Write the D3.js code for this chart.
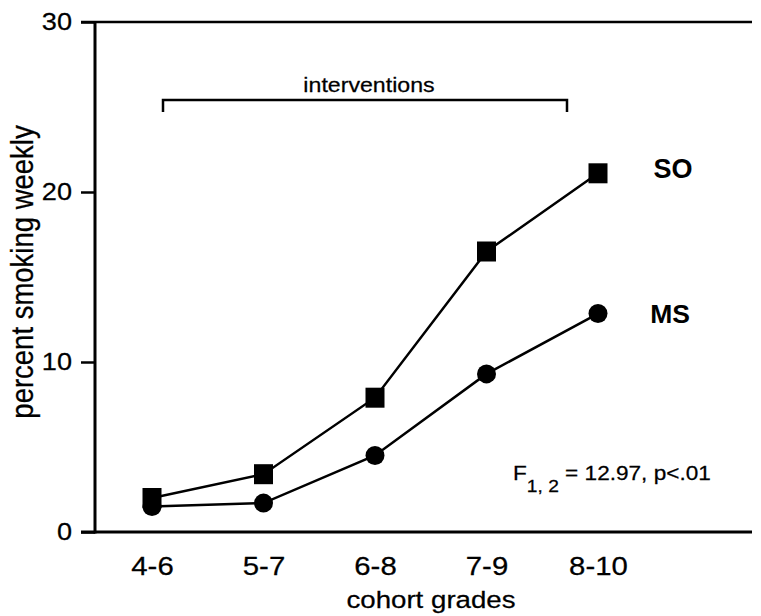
<!DOCTYPE html>
<html lang="en">
  <head>
    <meta charset="UTF-8">
    <title>percent smoking weekly</title>
    <style>
      html,body{
        background-color: #fff;
        margin: 0;
        padding: 0;
      }
      text { font-family: "Liberation Sans", Arial, sans-serif; fill: #000; stroke: #000; stroke-width: 0.25px; }
      text.bold { stroke-width: 0; font-weight: bold; }
    </style>
  </head>
  <body>
    <div id="chart"></div>
    <script src="https://d3js.org/d3.v7.min.js"></script>
    <script>
      // datos
      var grades = ["4-6", "5-7", "6-8", "7-9", "8-10"];
      var soValues = [2.0, 3.4, 7.9, 16.5, 21.1];
      var msValues = [1.5, 1.7, 4.5, 9.3, 12.85];
      var yTicks = [0, 10, 20, 30];

      var ancho = 761, alto = 616;
      var sx = 1.13; // el texto del original es algo mas ancho
      var svg = d3.select("#chart").append("svg")
        .attr("width", ancho)
        .attr("height", alto);

      var x = d3.scalePoint().domain(grades).range([152, 598]);
      var y = d3.scaleLinear().domain([0, 30]).range([532, 22]);

      function texto(px, py, str, size, anchor){
        return svg.append("text")
          .attr("transform", "translate(" + px + "," + py + ") scale(" + sx + ",1)")
          .attr("text-anchor", anchor || "middle")
          .style("font-size", size + "px")
          .text(str);
      }

      // eje y
      var yAxis = svg.append("g")
        .attr("transform", "translate(95,0)")
        .call(d3.axisLeft(y).tickValues(yTicks).tickSize(14));
      yAxis.attr("font-size", null).attr("font-family", null);
      yAxis.select(".domain").attr("stroke-width", 3).attr("d", "M0," + y(30) + "V" + (y(0) + 1.5));
      yAxis.selectAll(".tick line").attr("stroke-width", 2.5);
      yAxis.selectAll(".tick text")
        .attr("x", -23 / sx)
        .attr("transform", "scale(" + sx + ",1)")
        .style("font-size", "24px");

      // linea superior y eje x
      svg.append("line").attr("x1", 81).attr("x2", 752).attr("y1", y(30)).attr("y2", y(30))
        .attr("stroke", "#000").attr("stroke-width", 2.5);
      svg.append("line").attr("x1", 81).attr("x2", 752).attr("y1", y(0)).attr("y2", y(0))
        .attr("stroke", "#000").attr("stroke-width", 3);

      var xAxis = svg.append("g")
        .attr("transform", "translate(0," + y(0) + ")")
        .call(d3.axisBottom(x).tickSize(0));
      xAxis.attr("font-size", null).attr("font-family", null);
      xAxis.select(".domain").remove();
      xAxis.selectAll(".tick text")
        .attr("y", 43).attr("dy", 0)
        .attr("transform", "scale(" + sx + ",1)")
        .style("font-size", "26px");

      // titulos de ejes
      texto(431, 608, "cohort grades", 24.5);
      svg.append("text")
        .attr("transform", "translate(32.5,272) scale(" + sx + ",1) rotate(-90)")
        .attr("text-anchor", "middle")
        .style("font-size", "27.5px")
        .text("percent smoking weekly");

      // lineas
      var linea = d3.line().x(function(d, i){ return x(grades[i]); }).y(function(d){ return y(d); });
      svg.append("path").datum(soValues).attr("d", linea).attr("fill", "none").attr("stroke", "#000").attr("stroke-width", 2.5);
      svg.append("path").datum(msValues).attr("d", linea).attr("fill", "none").attr("stroke", "#000").attr("stroke-width", 2.5);

      // marcadores
      svg.selectAll("circle.ms").data(msValues).enter().append("circle")
        .attr("class", "ms")
        .attr("cx", function(d, i){ return x(grades[i]); })
        .attr("cy", function(d){ return y(d); })
        .attr("r", 9.5).attr("fill", "#000");
      svg.selectAll("rect.so").data(soValues).enter().append("rect")
        .attr("class", "so")
        .attr("x", function(d, i){ return x(grades[i]) - 9.5; })
        .attr("y", function(d){ return y(d) - 10; })
        .attr("width", 19).attr("height", 20).attr("fill", "#000");

      // etiquetas de series
      svg.append("text").attr("class", "bold").attr("x", 673).attr("y", 178).attr("text-anchor", "middle")
        .style("font-size", "27px").text("SO");
      svg.append("text").attr("class", "bold").attr("x", 670).attr("y", 323).attr("text-anchor", "middle")
        .style("font-size", "26.5px").text("MS");

      // corchete de intervenciones
      svg.append("path")
        .attr("d", "M163,112V100H567V112")
        .attr("fill", "none").attr("stroke", "#000").attr("stroke-width", 2.5);
      texto(369, 92, "interventions", 20.5);

      // estadistico
      var est = texto(513, 480, "", 20, "start");
      est.append("tspan").text("F");
      est.append("tspan").attr("dy", 12).style("font-size", "17px").text("1, 2");
      est.append("tspan").attr("dy", -12).text(" = 12.97, p<.01");
    </script>
  </body>
</html>
